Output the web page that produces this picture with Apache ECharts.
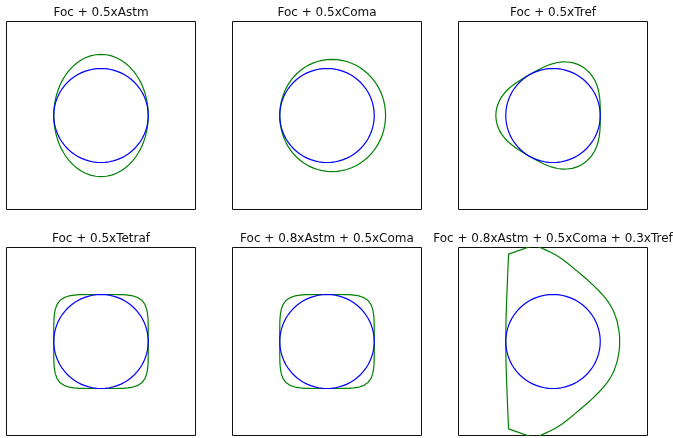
<!DOCTYPE html>
<html>
<head>
<meta charset="utf-8">
<script src="https://cdn.jsdelivr.net/npm/echarts@6/dist/echarts.min.js"></script>
<style>
html,body{margin:0;padding:0;background:#fff;}
#chart{width:673px;height:438px;}
</style>
</head>
<body>
<div id="chart"></div>
<script>
// ---- data ----
const titles = [
  'Foc + 0.5xAstm',
  'Foc + 0.5xComa',
  'Foc + 0.5xTref',
  'Foc + 0.5xTetraf',
  'Foc + 0.8xAstm + 0.5xComa',
  'Foc + 0.8xAstm + 0.5xComa + 0.3xTref'
];
// polar sample angles (degrees) for the closed curves
const angles = [0,5,10,15,20,25,30,35,40,45,50,55,60,65,70,75,80,85,90,95,100,105,110,115,120,125,130,135,140,145,150,155,160,165,170,175,180,
  185,190,195,200,205,210,215,220,225,230,235,240,245,250,255,260,265,270,275,280,285,290,295,300,305,310,315,320,325,330,335,340,345,350,355,360];
// reference circle (blue), radius at each angle
const circleR = [1,1,1,1,1,1,1,1,1,1,1,1,1,1,1,1,1,1,1,1,1,1,1,1,1,1,1,1,1,1,1,1,1,1,1,1,1,
  1,1,1,1,1,1,1,1,1,1,1,1,1,1,1,1,1,1,1,1,1,1,1,1,1,1,1,1,1,1,1,1,1,1,1,1,1];
// aberrated curves (green), radius at each angle
const astmR = [1.000,1.002,1.006,1.014,1.025,1.039,1.055,1.075,1.097,1.121,1.147,1.174,1.201,1.227,1.251,1.271,1.287,1.297,1.300,
  1.297,1.287,1.271,1.251,1.227,1.201,1.174,1.147,1.121,1.097,1.075,1.055,1.039,1.025,1.014,1.006,1.002,1.000,
  1.002,1.006,1.014,1.025,1.039,1.055,1.075,1.097,1.121,1.147,1.174,1.201,1.227,1.251,1.271,1.287,1.297,1.300,
  1.297,1.287,1.271,1.251,1.227,1.201,1.174,1.147,1.121,1.097,1.075,1.055,1.039,1.025,1.014,1.006,1.002,1.000];
const comaR = [1.240,1.240,1.240,1.241,1.241,1.241,1.241,1.241,1.241,1.240,1.238,1.236,1.233,1.228,1.223,1.216,1.209,1.200,1.190,
  1.179,1.167,1.154,1.141,1.127,1.113,1.098,1.084,1.070,1.057,1.045,1.034,1.024,1.015,1.009,1.004,1.001,1.000,
  1.001,1.004,1.009,1.015,1.024,1.034,1.045,1.057,1.070,1.084,1.098,1.113,1.127,1.141,1.154,1.167,1.179,1.190,
  1.200,1.209,1.216,1.223,1.228,1.233,1.236,1.238,1.240,1.241,1.241,1.241,1.241,1.241,1.241,1.240,1.240,1.240];
const trefR = [1.000,1.004,1.014,1.031,1.053,1.078,1.105,1.132,1.158,1.179,1.196,1.206,1.210,1.206,1.196,1.179,1.158,1.132,1.105,1.078,1.053,1.031,1.014,1.004,
  1.000,1.004,1.014,1.031,1.053,1.078,1.105,1.132,1.158,1.179,1.196,1.206,1.210,1.206,1.196,1.179,1.158,1.132,1.105,1.078,1.053,1.031,1.014,1.004,
  1.000,1.004,1.014,1.031,1.053,1.078,1.105,1.132,1.158,1.179,1.196,1.206,1.210,1.206,1.196,1.179,1.158,1.132,1.105,1.078,1.053,1.031,1.014,1.004,1.000];
const tetrafR = [1.000,1.004,1.015,1.035,1.063,1.099,1.140,1.183,1.218,1.231,1.218,1.183,1.140,1.099,1.063,1.035,1.015,1.004,
  1.000,1.004,1.015,1.035,1.063,1.099,1.140,1.183,1.218,1.231,1.218,1.183,1.140,1.099,1.063,1.035,1.015,1.004,
  1.000,1.004,1.015,1.035,1.063,1.099,1.140,1.183,1.218,1.231,1.218,1.183,1.140,1.099,1.063,1.035,1.015,1.004,
  1.000,1.004,1.015,1.035,1.063,1.099,1.140,1.183,1.218,1.231,1.218,1.183,1.140,1.099,1.063,1.035,1.015,1.004,1.000];
const astmComaR = [1.000,1.004,1.015,1.035,1.063,1.099,1.140,1.183,1.218,1.231,1.218,1.183,1.140,1.099,1.063,1.035,1.015,1.004,
  1.000,1.004,1.015,1.035,1.063,1.099,1.140,1.183,1.218,1.231,1.218,1.183,1.140,1.099,1.063,1.035,1.015,1.004,
  1.000,1.004,1.015,1.035,1.063,1.099,1.140,1.183,1.218,1.231,1.218,1.183,1.140,1.099,1.063,1.035,1.015,1.004,
  1.000,1.004,1.015,1.035,1.063,1.099,1.140,1.183,1.218,1.231,1.218,1.183,1.140,1.099,1.063,1.035,1.015,1.004,1.000];
// last panel: curved right part and straight-ish left part, as (x, y) points
const tripleArc = [[-0.40,2.05],[-0.27,2.00],[-0.16,1.95],[-0.05,1.90],[0.08,1.83],[0.20,1.75],[0.33,1.65],[0.46,1.54],
  [0.59,1.43],[0.72,1.32],[0.85,1.20],[0.97,1.08],[1.07,0.97],[1.15,0.87],[1.22,0.76],[1.28,0.65],[1.32,0.54],[1.36,0.42],
  [1.38,0.31],[1.40,0.20],[1.41,0.10],[1.41,0.00],[1.41,-0.10],[1.40,-0.20],[1.38,-0.31],[1.36,-0.42],[1.32,-0.54],
  [1.28,-0.65],[1.22,-0.76],[1.15,-0.87],[1.07,-0.97],[0.97,-1.08],[0.85,-1.20],[0.72,-1.32],[0.59,-1.43],[0.46,-1.54],
  [0.33,-1.65],[0.20,-1.75],[0.08,-1.83],[-0.05,-1.90],[-0.16,-1.95],[-0.27,-2.00],[-0.40,-2.05]];
const tripleEdge = [[-0.40,2.05],[-0.94,1.86],[-0.96,1.40],[-0.98,0.90],[-0.995,0.45],[-1.00,0.00],
  [-0.995,-0.45],[-0.98,-0.90],[-0.96,-1.40],[-0.94,-1.86],[-0.40,-2.05]];
const panelCurves = [astmR, comaR, trefR, tetrafR, astmComaR, null];

// ---- layout / style ----
const colLeft = [6.5, 232.5, 458.5];
const rowTop = [21.5, 247.5];
const boxW = 189, boxH = 188;
const BLUE = '#0000ff', GREEN = '#008000';

function polarToXY(r) {
  return angles.map((a, i) => {
    const t = a * Math.PI / 180;
    return [r[i] * Math.cos(t), r[i] * Math.sin(t)];
  });
}

const grid = [], xAxis = [], yAxis = [], series = [], graphic = [];
for (let i = 0; i < 6; i++) {
  const left = colLeft[i % 3], top = rowTop[Math.floor(i / 3)];
  grid.push({left, top, width: boxW, height: boxH, show: true,
    borderColor: '#111', borderWidth: 1, backgroundColor: 'transparent'});
  const ax = {gridIndex: i, type: 'value', min: -2, max: 2, show: false, splitLine: {show: false}};
  xAxis.push(Object.assign({}, ax));
  yAxis.push(Object.assign({}, ax));
  const common = {type: 'line', xAxisIndex: i, yAxisIndex: i, showSymbol: false, symbol: 'none',
    silent: true, animation: false, clip: true, smooth: false};
  if (panelCurves[i]) {
    series.push(Object.assign({}, common, {data: polarToXY(panelCurves[i]),
      lineStyle: {color: GREEN, width: 1.2, join: 'round'}}));
  } else {
    series.push(Object.assign({}, common, {data: tripleArc,
      lineStyle: {color: GREEN, width: 1.2, join: 'round'}}));
    series.push(Object.assign({}, common, {data: tripleEdge,
      lineStyle: {color: GREEN, width: 1.2, join: 'round'}}));
  }
  series.push(Object.assign({}, common, {data: polarToXY(circleR),
    lineStyle: {color: BLUE, width: 1.2, join: 'round'}}));
  graphic.push({type: 'text', x: left + boxW / 2, y: top - 9, silent: true,
    style: {text: titles[i], fill: '#111', font: '12px "DejaVu Sans"',
      textAlign: 'center', textVerticalAlign: 'middle', align: 'center', verticalAlign: 'middle'}});
}

const chart = echarts.init(document.getElementById('chart'), null, {renderer: 'canvas'});
chart.setOption({animation: false, grid, xAxis, yAxis, series, graphic});
</script>
</body>
</html>
